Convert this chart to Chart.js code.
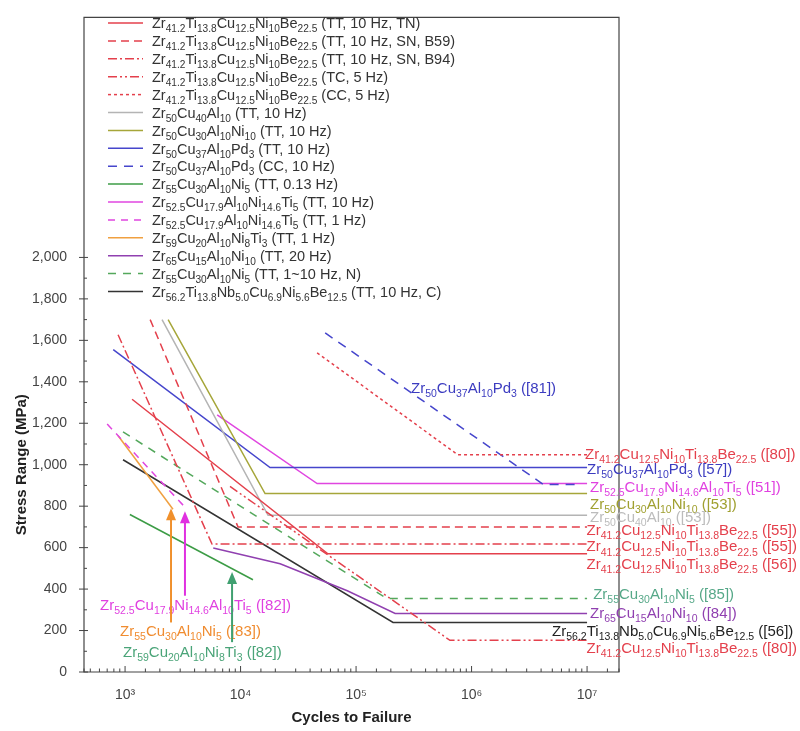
<!DOCTYPE html>
<html lang="en">
<head>
<meta charset="UTF-8">
<title>Stress range vs cycles to failure</title>
<script src="https://cdn.jsdelivr.net/npm/chart.js"></script>
<style>
  body { margin: 0; background: #fff; }
  #wrap { position: relative; width: 800px; height: 731px; }
</style>
</head>
<body>
<div id="wrap"><canvas id="snChart"></canvas></div>
<script>
// ---- data: [cycles to failure, stress range (MPa)] ----
const zrBeTN   = [[1150, 1316], [57000, 570], [1e7, 570]];
const zrBeB59  = [[1650, 1700], [9500, 700], [1e7, 700]];
const zrBeB94  = [[870, 1627], [5660, 617], [1e7, 617]];
const zrBeTC   = [[8100, 895], [650000, 153], [1e7, 153]];
const zrBeCC   = [[46000, 1540], [760000, 1048], [1e7, 1048]];
const cuAl     = [[2090, 1700], [17300, 756], [1e7, 756]];
const cuAlNi   = [[2360, 1700], [16300, 861], [1e7, 861]];
const cuAlPdTT = [[790, 1555], [18000, 986], [1e7, 986]];
const cuAlPdCC = [[54000, 1636], [4.2e6, 904], [8.7e6, 904]];
const zr55Slow = [[1100, 760], [12800, 445]];
const zr525TT10 = [[6270, 1240], [46000, 909], [1e7, 909]];
const zr525TT1 = [[700, 1196], [3240, 800]];
const zr59     = [[870, 1140], [2600, 785]];
const zr65     = [[5800, 598], [22000, 522], [84000, 392], [218000, 282], [1e7, 282]];
const zr55N    = [[960, 1158], [185000, 354], [1e7, 354]];
const zr562    = [[960, 1024], [209000, 239], [1e7, 239]];

const seriesData = [zrBeTN, zrBeB59, zrBeB94, zrBeTC, zrBeCC, cuAl, cuAlNi, cuAlPdTT,
  cuAlPdCC, zr55Slow, zr525TT10, zr525TT1, zr59, zr65, zr55N, zr562];

const seriesLabels = [
  'Zr_{41.2}Ti_{13.8}Cu_{12.5}Ni_{10}Be_{22.5} (TT, 10 Hz, TN)',
  'Zr_{41.2}Ti_{13.8}Cu_{12.5}Ni_{10}Be_{22.5} (TT, 10 Hz, SN, B59)',
  'Zr_{41.2}Ti_{13.8}Cu_{12.5}Ni_{10}Be_{22.5} (TT, 10 Hz, SN, B94)',
  'Zr_{41.2}Ti_{13.8}Cu_{12.5}Ni_{10}Be_{22.5} (TC, 5 Hz)',
  'Zr_{41.2}Ti_{13.8}Cu_{12.5}Ni_{10}Be_{22.5} (CC, 5 Hz)',
  'Zr_{50}Cu_{40}Al_{10} (TT, 10 Hz)',
  'Zr_{50}Cu_{30}Al_{10}Ni_{10} (TT, 10 Hz)',
  'Zr_{50}Cu_{37}Al_{10}Pd_{3} (TT, 10 Hz)',
  'Zr_{50}Cu_{37}Al_{10}Pd_{3} (CC, 10 Hz)',
  'Zr_{55}Cu_{30}Al_{10}Ni_{5} (TT, 0.13 Hz)',
  'Zr_{52.5}Cu_{17.9}Al_{10}Ni_{14.6}Ti_{5} (TT, 10 Hz)',
  'Zr_{52.5}Cu_{17.9}Al_{10}Ni_{14.6}Ti_{5} (TT, 1 Hz)',
  'Zr_{59}Cu_{20}Al_{10}Ni_{8}Ti_{3} (TT, 1 Hz)',
  'Zr_{65}Cu_{15}Al_{10}Ni_{10} (TT, 20 Hz)',
  'Zr_{55}Cu_{30}Al_{10}Ni_{5} (TT, 1~10 Hz, N)',
  'Zr_{56.2}Ti_{13.8}Nb_{5.0}Cu_{6.9}Ni_{5.6}Be_{12.5} (TT, 10 Hz, C)'
];

// labels at the right end of the lines
const endLabels = [
  'Zr_{41.2}Cu_{12.5}Ni_{10}Ti_{13.8}Be_{22.5} ([80])',
  'Zr_{50}Cu_{37}Al_{10}Pd_{3} ([57])',
  'Zr_{52.5}Cu_{17.9}Ni_{14.6}Al_{10}Ti_{5} ([51])',
  'Zr_{50}Cu_{30}Al_{10}Ni_{10} ([53])',
  'Zr_{50}Cu_{40}Al_{10} ([53])',
  'Zr_{41.2}Cu_{12.5}Ni_{10}Ti_{13.8}Be_{22.5} ([55])',
  'Zr_{41.2}Cu_{12.5}Ni_{10}Ti_{13.8}Be_{22.5} ([55])',
  'Zr_{41.2}Cu_{12.5}Ni_{10}Ti_{13.8}Be_{22.5} ([56])',
  'Zr_{55}Cu_{30}Al_{10}Ni_{5} ([85])',
  'Zr_{65}Cu_{15}Al_{10}Ni_{10} ([84])',
  'Zr_{56.2}Ti_{13.8}Nb_{5.0}Cu_{6.9}Ni_{5.6}Be_{12.5} ([56])',
  'Zr_{41.2}Cu_{12.5}Ni_{10}Ti_{13.8}Be_{22.5} ([80])'
];

// labels inside the plot
const noteLabels = [
  'Zr_{50}Cu_{37}Al_{10}Pd_{3} ([81])',
  'Zr_{52.5}Cu_{17.9}Ni_{14.6}Al_{10}Ti_{5} ([82])',
  'Zr_{55}Cu_{30}Al_{10}Ni_{5} ([83])',
  'Zr_{59}Cu_{20}Al_{10}Ni_{8}Ti_{3} ([82])'
];

const yTickMax = 2000;

// ---- styles ----
const RED = '#e4404c';
const seriesStyles = [
  { color: RED, dash: [] },
  { color: RED, dash: [8, 5] },
  { color: RED, dash: [9, 3, 2, 3] },
  { color: RED, dash: [9, 3, 2, 3, 2, 3] },
  { color: RED, dash: [3, 3] },
  { color: '#b4b4b4', dash: [] },
  { color: '#a6a63a', dash: [] },
  { color: '#4646cc', dash: [] },
  { color: '#4646cc', dash: [9, 7] },
  { color: '#3c9c46', dash: [] },
  { color: '#e046e0', dash: [] },
  { color: '#e046e0', dash: [7, 6] },
  { color: '#f0a040', dash: [] },
  { color: '#9040b0', dash: [] },
  { color: '#54a85c', dash: [8, 7] },
  { color: '#333333', dash: [] }
];

const endLabelPos = [[9.6e6, 1053], [1e7, 981], [1.06e7, 895], [1.06e7, 813], [1.06e7, 751],
  [9.9e6, 689], [9.9e6, 608], [9.9e6, 522], [1.13e7, 378], [1.06e7, 287], [4.98e6, 201], [9.9e6, 120]];
const endLabelColors = [RED, '#3c3cc0', '#e040e0', '#a0a030', '#bcbcbc', RED, RED, RED,
  '#56a888', '#9040b0', '#222222', RED];

const notePos = [[2.99e5, 1373], [608, 325], [905, 201], [960, 100]];
const noteColors = ['#3c3cc0', '#e040e0', '#f08c30', '#4aa478'];

// arrows: [cycles, from stress, to stress]
const arrows = [[2500, 239, 790], [3300, 368, 775], [8440, 144, 483]];
const arrowColors = ['#f0902c', '#e030e0', '#40a070'];

const FONT = '"Liberation Sans", Arial, sans-serif';

function richParts(str) {
  const parts = [];
  const re = /_\{([^}]*)\}/g;
  let last = 0, m;
  while ((m = re.exec(str))) {
    if (m.index > last) parts.push({ t: str.slice(last, m.index), sub: false });
    parts.push({ t: m[1], sub: true });
    last = re.lastIndex;
  }
  if (last < str.length) parts.push({ t: str.slice(last), sub: false });
  return parts;
}

// draws text with _{subscripts}; y is the vertical centre of the main text
function drawRich(ctx, str, x, y, size, color) {
  ctx.save();
  ctx.fillStyle = color;
  ctx.textAlign = 'left';
  ctx.textBaseline = 'alphabetic';
  const base = y + size * 0.36;
  let cx = x;
  for (const p of richParts(str)) {
    ctx.font = (p.sub ? size * 0.7 : size) + 'px ' + FONT;
    ctx.fillText(p.t, cx, p.sub ? base + size * 0.28 : base);
    cx += ctx.measureText(p.t).width;
  }
  ctx.restore();
}

const isDecade = v => Math.abs(Math.log10(v) - Math.round(Math.log10(v))) < 1e-9;
const SUP = { 3: '\u00b3', 4: '\u2074', 5: '\u2075', 6: '\u2076', 7: '\u2077' };

const decor = {
  id: 'decor',
  afterDraw(chart) {
    const ctx = chart.ctx;
    const xs = chart.scales.x, ys = chart.scales.y;
    const a = chart.chartArea;

    ctx.save();
    ctx.strokeStyle = '#444';
    ctx.lineWidth = 1.2;
    ctx.beginPath();
    ctx.rect(a.left, a.top, a.right - a.left, a.bottom - a.top);
    ctx.stroke();

    // x ticks (inward)
    ctx.lineWidth = 1;
    xs.ticks.forEach(t => {
      const px = xs.getPixelForValue(t.value);
      if (px < a.left || px > a.right) return;
      const len = isDecade(t.value) ? 6 : 3.5;
      ctx.beginPath();
      ctx.moveTo(px, a.bottom);
      ctx.lineTo(px, a.bottom - len);
      ctx.stroke();
    });
    // y ticks
    ys.ticks.forEach(t => {
      if (t.value > yTickMax || t.value % 100 !== 0) return;
      const py = ys.getPixelForValue(t.value);
      const major = t.value % 200 === 0;
      ctx.beginPath();
      ctx.moveTo(a.left - (major ? 5 : 0), py);
      ctx.lineTo(a.left + (major ? 4 : 3), py);
      ctx.stroke();
    });
    ctx.restore();

    // axis titles
    ctx.save();
    ctx.fillStyle = '#222';
    ctx.font = 'bold 15px ' + FONT;
    ctx.textAlign = 'center';
    ctx.textBaseline = 'middle';
    ctx.fillText('Cycles to Failure', (a.left + a.right) / 2, 718);
    ctx.translate(22, ys.getPixelForValue(1000));
    ctx.rotate(-Math.PI / 2);
    ctx.fillText('Stress Range (MPa)', 0, 0);
    ctx.restore();

    // legend
    seriesLabels.forEach((lab, i) => {
      const y = 23 + i * 17.9;
      const st = seriesStyles[i];
      ctx.save();
      ctx.strokeStyle = st.color;
      ctx.lineWidth = 1.5;
      ctx.setLineDash(st.dash);
      ctx.beginPath();
      ctx.moveTo(108, y);
      ctx.lineTo(143, y);
      ctx.stroke();
      ctx.restore();
      drawRich(ctx, lab, 152, y, 14.5, '#333');
    });

    // labels at line ends
    endLabels.forEach((lab, i) => {
      const p = endLabelPos[i];
      drawRich(ctx, lab, xs.getPixelForValue(p[0]), ys.getPixelForValue(p[1]), 15, endLabelColors[i]);
    });

    // notes inside plot
    noteLabels.forEach((lab, i) => {
      const p = notePos[i];
      drawRich(ctx, lab, xs.getPixelForValue(p[0]), ys.getPixelForValue(p[1]), 15, noteColors[i]);
    });

    // arrows
    arrows.forEach((ar, i) => {
      const px = xs.getPixelForValue(ar[0]);
      const y0 = ys.getPixelForValue(ar[1]);
      const y1 = ys.getPixelForValue(ar[2]);
      ctx.save();
      ctx.strokeStyle = arrowColors[i];
      ctx.fillStyle = arrowColors[i];
      ctx.lineWidth = 2;
      ctx.beginPath();
      ctx.moveTo(px, y0);
      ctx.lineTo(px, y1 + 10);
      ctx.stroke();
      ctx.beginPath();
      ctx.moveTo(px, y1);
      ctx.lineTo(px - 5, y1 + 12);
      ctx.lineTo(px + 5, y1 + 12);
      ctx.closePath();
      ctx.fill();
      ctx.restore();
    });
  }
};

const datasets = seriesData.map((pts, i) => ({
  label: seriesLabels[i].replace(/_\{([^}]*)\}/g, '$1'),
  data: pts.map(p => ({ x: p[0], y: p[1] })),
  borderColor: seriesStyles[i].color,
  borderDash: seriesStyles[i].dash,
  borderWidth: 1.5,
  pointRadius: 0,
  fill: false,
  tension: 0
}));

new Chart(document.getElementById('snChart'), {
  type: 'line',
  data: { datasets },
  options: {
    responsive: true,
    maintainAspectRatio: false,
    animation: false,
    layout: { padding: { top: 12, right: 181, left: 0, bottom: 0 } },
    plugins: { legend: { display: false }, tooltip: { enabled: false } },
    scales: {
      x: {
        type: 'logarithmic',
        min: 441,
        max: 1.89e7,
        grid: { display: false },
        border: { display: false },
        afterFit: s => { s.height = 59; },
        ticks: {
          autoSkip: false,
          maxRotation: 0,
          padding: 7,
          color: '#444',
          font: { family: FONT, size: 14 },
          callback: v => isDecade(v) ? '10' + SUP[Math.round(Math.log10(v))] : ''
        }
      },
      y: {
        type: 'linear',
        min: 0,
        max: 3158,
        grid: { display: false },
        border: { display: false },
        afterFit: s => { s.width = 84; },
        ticks: {
          stepSize: 100,
          autoSkip: false,
          padding: 9,
          color: '#444',
          font: { family: FONT, size: 14 },
          callback: v => (v <= yTickMax && v % 200 === 0) ? v.toLocaleString('en-US') : ''
        }
      }
    }
  },
  plugins: [decor]
});
</script>
</body>
</html>
